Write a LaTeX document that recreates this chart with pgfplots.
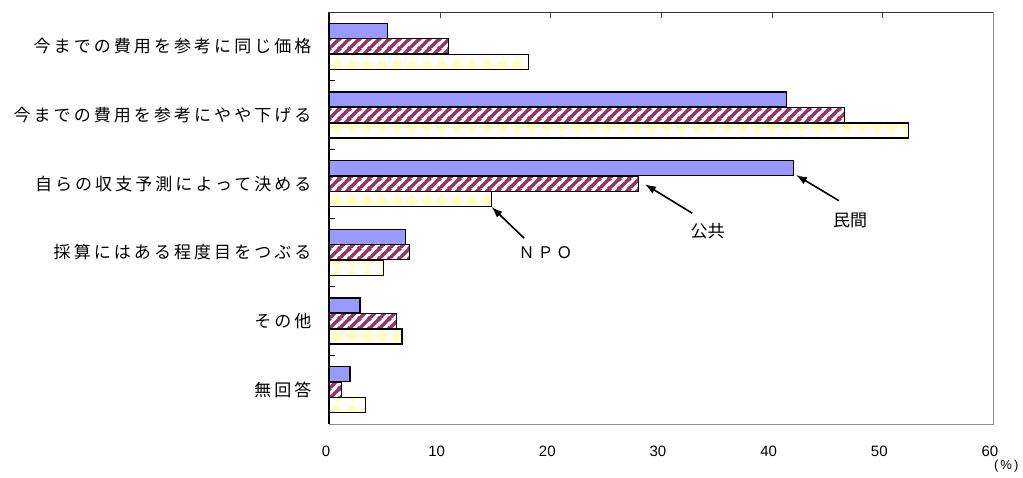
\documentclass[border=0pt]{standalone}
\usepackage{fontspec}
\setmainfont{Liberation Sans}
\newfontfamily\jp[LetterSpace=18]{Noto Sans CJK JP}
\newfontfamily\jpn{Noto Sans CJK JP}
\usepackage{pgfplots}
\pgfplotsset{compat=1.18}
\usetikzlibrary{patterns.meta,arrows.meta}

\definecolor{kblue}{RGB}{153,153,255}
\definecolor{kmaroon}{RGB}{153,51,102}
\definecolor{kyellow}{RGB}{255,255,195}

% white ground with maroon diagonal stripes
\tikzdeclarepattern{
  name=maroonstripes,
  type=colored,
  bounding box={(0pt,0pt) and (10pt,10pt)},
  tile size={(10pt,10pt)},
  code={
    \fill[white] (0pt,0pt) rectangle (10pt,10pt);
    \draw[line width=3.6pt, draw=kmaroon]
      (-1pt,-1pt) -- (11pt,11pt)
      (-1pt,9pt) -- (1pt,11pt)
      (9pt,-1pt) -- (11pt,1pt);
  }
}
% white ground with pale yellow diamonds
\tikzdeclarepattern{
  name=yellowdiamonds,
  type=colored,
  bounding box={(0pt,0pt) and (15pt,15pt)},
  tile size={(15pt,15pt)},
  code={
    \fill[white] (0pt,0pt) rectangle (15pt,15pt);
    \fill[kyellow] (7.5pt,0pt) -- (15pt,7.5pt) -- (7.5pt,15pt) -- (0pt,7.5pt) -- cycle;
  }
}

\begin{document}
\begin{tikzpicture}
\useasboundingbox (0,0) rectangle (1023pt,478pt);
\begin{axis}[
  at={(329pt,54pt)}, anchor=south west,
  scale only axis, width=664pt, height=412pt,
  xmin=0, xmax=60, ymin=-0.5, ymax=5.5,
  xbar, bar width=15pt,
  axis line style={black!45},
  xtick={0,10,...,60},
  xtick pos=right, xticklabel pos=left,
  major tick length=6pt,
  xtick style={black!70},
  xticklabel style={font=\fontsize{15}{17}\selectfont, xshift=-3pt, yshift=-18pt},
  /pgf/number format/assume math mode=true,
  ytick={0,...,5},
  yticklabels={無回答,その他,採算にはある程度目をつぶる,自らの収支予測によって決める,今までの費用を参考にやや下げる,今までの費用を参考に同じ価格},
  ytick style={draw=none},
  yticklabel style={font=\jp\fontsize{17}{19}\selectfont, xshift=-8pt},
  clip=false,
]
% 民間
\addplot[xbar, bar shift=15.5pt, fill=kblue, draw=black, line width=1.1pt]
  coordinates {(1.9,0) (2.8,1) (6.9,2) (42.0,3) (41.3,4) (5.3,5)};
% 公共
\addplot[xbar, bar shift=0pt, pattern=maroonstripes, draw=black, line width=1.1pt]
  coordinates {(1.1,0) (6.1,1) (7.3,2) (28.0,3) (46.6,4) (10.8,5)};
% NPO
\addplot[xbar, bar shift=-15.5pt, pattern=yellowdiamonds, draw=black, line width=1.1pt]
  coordinates {(3.3,0) (6.6,1) (4.9,2) (14.7,3) (52.4,4) (18.0,5)};

% left axis and top edge
\draw[black, line width=1.3pt] (rel axis cs:0,0) -- (rel axis cs:0,1);
\draw[black!80, line width=0.9pt] (rel axis cs:0,1) -- (rel axis cs:1,1);
% separators between categories
\pgfplotsinvokeforeach{0.5,1.5,2.5,3.5,4.5}{
  \draw[black, line width=0.8pt] (axis cs:0,#1) -- ++(6pt,0pt);
}

% series labels with arrows
\draw[-{Latex[length=11pt,width=8pt]}, line width=1.6pt] (axis cs:46.08,2.752) -- (axis cs:42.2,3.126);
\node[font=\jpn\fontsize{17}{19}\selectfont] at (axis cs:47.08,2.471) {民間};
\draw[-{Latex[length=11pt,width=8pt]}, line width=1.6pt] (axis cs:32.83,2.569) -- (axis cs:28.55,2.991);
\node[font=\jpn\fontsize{17}{19}\selectfont] at (axis cs:34.22,2.311) {公共};
\draw[-{Latex[length=11pt,width=8pt]}, line width=1.6pt] (axis cs:17.62,2.208) -- (axis cs:14.70,2.660);
\node[font=\jp\fontsize{16}{18}\selectfont] at (axis cs:19.57,1.99) {ＮＰＯ};

% unit
\node[font=\fontsize{13}{15}\selectfont] at (axis cs:61.2,-1.12) {(\,\%\,)};
\end{axis}
\end{tikzpicture}
\end{document}
